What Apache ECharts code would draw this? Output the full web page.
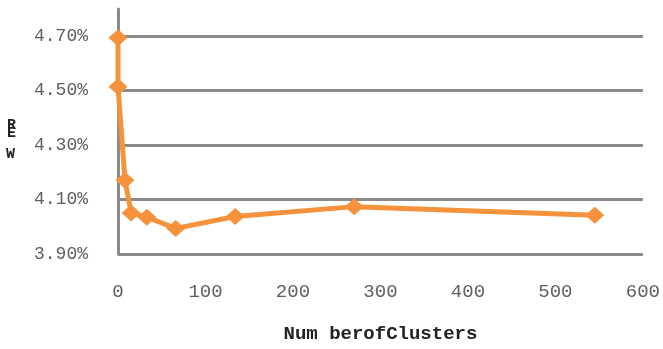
<!DOCTYPE html>
<html>
<head>
<meta charset="utf-8">
<script src="https://cdn.jsdelivr.net/npm/echarts@6/dist/echarts.min.js"></script>
<style>
  html, body { margin: 0; padding: 0; background: #ffffff; }
  #chart { width: 663px; height: 349px; }
</style>
</head>
<body>
<div id="chart"></div>
<script>
// Number of clusters vs. REW
const clusters = [0, 0, 8, 15, 33, 66, 134, 270, 545];
const rew = [4.694, 4.514, 4.171, 4.051, 4.035, 3.994, 4.038, 4.074, 4.042];
const xTicks = [0, 100, 200, 300, 400, 500, 600];
const yTicks = [3.9, 4.1, 4.3, 4.5, 4.7];

const FONT = "'Liberation Mono', 'DejaVu Sans Mono', monospace";
const GRID_GRAY = '#8a8a8a';
const ORANGE = '#F7923C';

const chart = echarts.init(document.getElementById('chart'), null, { renderer: 'canvas' });

const option = {
  backgroundColor: '#ffffff',
  animation: false,
  grid: { left: 118, right: 20, top: 9, bottom: 89, containLabel: false },
  xAxis: {
    type: 'value',
    min: xTicks[0],
    max: xTicks[xTicks.length - 1],
    interval: xTicks[1] - xTicks[0],
    name: 'Num berofClusters',
    nameLocation: 'middle',
    nameGap: 71,
    nameTextStyle: { fontFamily: FONT, fontWeight: 'bold', fontSize: 19, color: '#222' },
    axisLine: { show: false },
    axisTick: { show: false },
    splitLine: { show: false },
    axisLabel: { fontFamily: FONT, fontSize: 19, color: '#606060', margin: 28 }
  },
  yAxis: {
    type: 'value',
    min: yTicks[0],
    max: 4.8,
    interval: 0.2,
    axisLine: { show: true, onZero: false, lineStyle: { color: GRID_GRAY, width: 3 } },
    axisTick: { show: false },
    splitLine: {
      show: true,
      lineStyle: {
        width: 3,
        color: yTicks.map(() => GRID_GRAY).concat(['rgba(0,0,0,0)'])
      }
    },
    axisLabel: {
      fontFamily: FONT,
      fontSize: 18,
      color: '#606060',
      margin: 30,
      formatter: v => yTicks.some(t => Math.abs(t - v) < 1e-6) ? v.toFixed(2) + '%' : ''
    }
  },
  graphic: [
    { type: 'text', left: 7, top: 118, style: { text: 'R', font: 'bold 15px ' + FONT, fill: '#222' } },
    { type: 'text', left: 7, top: 126, style: { text: 'E', font: 'bold 15px ' + FONT, fill: '#222' } },
    { type: 'text', left: 6, top: 147, style: { text: 'W', font: 'bold 15px ' + FONT, fill: '#222' } }
  ],
  series: [{
    type: 'line',
    data: clusters.map((c, i) => [c, rew[i]]),
    symbol: 'diamond',
    symbolSize: [19, 17],
    showSymbol: true,
    lineStyle: { color: ORANGE, width: 5 },
    itemStyle: { color: ORANGE },
    z: 3
  }]
};

chart.setOption(option);
</script>
</body>
</html>
